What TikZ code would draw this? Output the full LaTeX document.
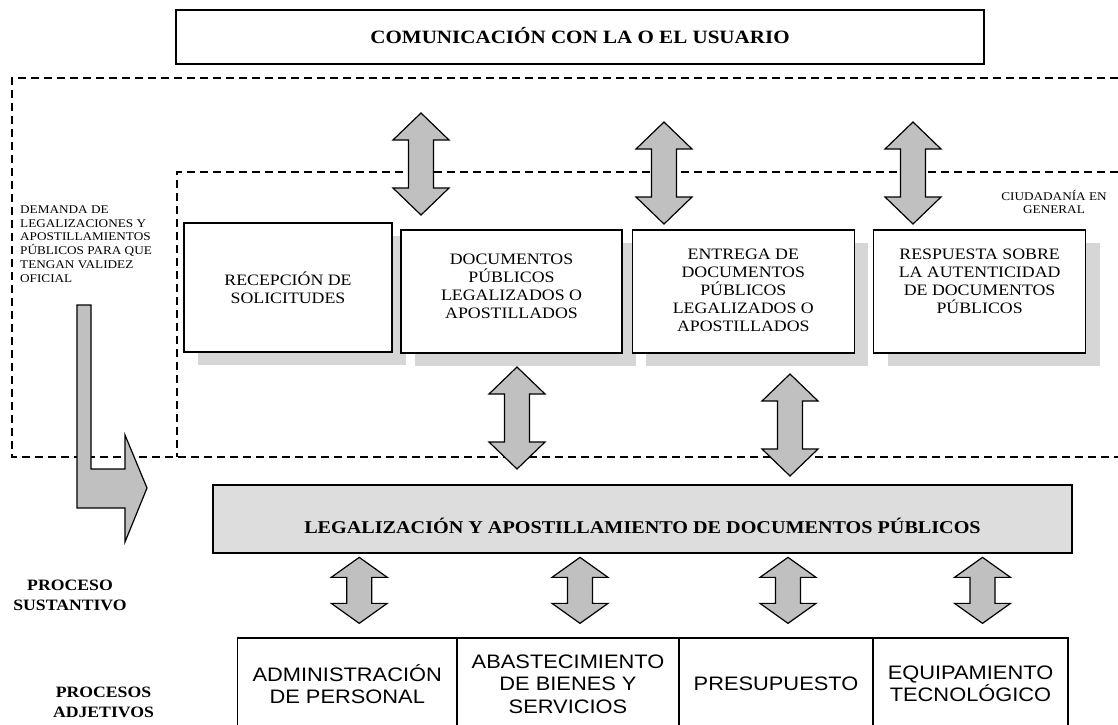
\documentclass[tikz,border=0pt]{standalone}
\usepackage{fontspec}
\setmainfont[FakeStretch=1.12]{Liberation Serif}
\setsansfont[FakeStretch=1.12]{Liberation Sans}
\usepackage{tikz}
\usetikzlibrary{shadows,positioning}
\definecolor{arrowgray}{RGB}{192,192,192}
\definecolor{coregray}{RGB}{221,221,221}
\definecolor{shadegray}{RGB}{214,214,214}

\begin{document}
\begin{tikzpicture}[x=1pt,y=-1pt]
   \tikzset{user node/.style={rectangle, draw, line width=1.5pt, fill=white,
   		minimum width=808pt, minimum height=54pt, text height=12.4pt, text depth=0pt,
   		font=\fontsize{18.8}{20}\selectfont\bfseries}, }
   \tikzset{service node/.style={rectangle, draw, line width=1.3pt, fill=white,
   		align=center, inner sep=0pt, minimum height=123pt,
   		drop shadow={shadow xshift=14pt, shadow yshift=-13pt, fill=shadegray, opacity=1},
   		font=\fontsize{15.9}{18}\selectfont}, }
   \tikzset{service text/.style={anchor=north, align=center, inner sep=0pt,
   		font=\fontsize{15.9}{18}\selectfont}, }
   \tikzset{core node/.style={rectangle, draw, line width=1.5pt, fill=coregray,
   		minimum width=859pt, minimum height=68pt, text height=28pt, text depth=0pt,
   		font=\fontsize{18}{20}\selectfont\bfseries}, }
   \tikzset{support node/.style={rectangle, draw, line width=1.3pt, fill=white,
   		align=center, inner sep=0pt, minimum height=92pt,
   		font=\fontsize{19.5}{22.5}\selectfont\sffamily}, }
   \tikzset{level text/.style={align=center, inner sep=0pt,
   		font=\fontsize{15.8}{20}\selectfont\bfseries}, }
   \tikzset{note text/.style={inner sep=0pt, font=\fontsize{11.8}{13.7}\selectfont}, }
   \tikzset{zone line/.style={line width=1.5pt, dash pattern=on 8pt off 5pt}, }
   \tikzset{block arrow/.style={draw, line width=1.2pt, fill=arrowgray, line join=miter}, }
   \tikzset{pics/updown/.style 2 args={code={
   		\path[block arrow] (0,0) -- (28,#2) -- (12.5,#2) -- (12.5,#1-#2) -- (28,#1-#2)
   		-- (0,#1) -- (-28,#1-#2) -- (-12.5,#1-#2) -- (-12.5,#2) -- (-28,#2) -- cycle;}}, }

\useasboundingbox (0,0) rectangle (1118,724);
\clip (0,0) rectangle (1118,724);

% zonas punteadas
\draw[zone line] (1118,78) -- (12,78) -- (12,457) -- (1118,457);
\draw[zone line] (1118,172) -- (177,172) -- (177,457);

\node[user node] (usuario) at (580,37) {COMUNICACIÓN CON LA O EL USUARIO};

\node[service node, minimum width=208pt, minimum height=129pt] (recepcion) at (288,287.5) {RECEPCIÓN DE\\SOLICITUDES};
\node[service node, minimum width=221pt,
	label={[service text, yshift=-24pt]north:{DOCUMENTOS\\PÚBLICOS\\LEGALIZADOS O\\APOSTILLADOS}}] (documentos) at (511.5,291.5) {};
\node[service node, minimum width=222pt, right=9pt of documentos,
	label={[service text, yshift=-19pt]north:{ENTREGA DE\\DOCUMENTOS\\PÚBLICOS\\LEGALIZADOS O\\APOSTILLADOS}}] (entrega) {};
\node[service node, minimum width=212pt, right=18pt of entrega,
	label={[service text, yshift=-19pt]north:{RESPUESTA SOBRE\\LA AUTENTICIDAD\\DE DOCUMENTOS\\PÚBLICOS}}] (respuesta) {};

\node[core node] (legal) at (642.5,519) {LEGALIZACIÓN Y APOSTILLAMIENTO DE DOCUMENTOS PÚBLICOS};

\node[support node, minimum width=219.5pt] (adm) at (347.25,684) {ADMINISTRACIÓN\\DE PERSONAL};
\node[support node, minimum width=222pt, right=-1.3pt of adm] (abas) {ABASTECIMIENTO\\DE BIENES Y\\SERVICIOS};
\node[support node, minimum width=194pt, right=-1.3pt of abas] (pres) {PRESUPUESTO};
\node[support node, minimum width=195pt, right=-1.3pt of pres] (equip) {EQUIPAMIENTO\\TECNOLÓGICO};

\node[note text, anchor=west, align=left] (demanda) at (20,244) {DEMANDA DE\\LEGALIZACIONES Y\\APOSTILLAMIENTOS\\PÚBLICOS PARA QUE\\TENGAN VALIDEZ\\OFICIAL};
\node[note text, align=center] (ciudadania) at (1054,202) {CIUDADANÍA EN\\GENERAL};
\node[level text] (sustantivo) at (70,595) {PROCESO\\SUSTANTIVO};
\node[level text] (adjetivos) at (103.5,702) {PROCESOS\\ADJETIVOS};

% flecha de la demanda
\path[block arrow] (77,305) -- (91,305) -- (91,469) -- (125,469) -- (125,435)
	-- (147,488) -- (125,542) -- (125,508) -- (77,508) -- cycle;

% flechas dobles
\pic at (421,113) {updown={102}{27}};
\pic at (664,122) {updown={102}{27}};
\pic at (913,122) {updown={102}{27}};
\pic at (517,367) {updown={102}{27}};
\pic at (790,374) {updown={102}{27}};
\foreach \b in {adm,abas,pres,equip}
\pic at ([xshift=12pt, yshift=80pt]\b.north) {updown={66}{20}};
%
\end{tikzpicture}
\end{document}
